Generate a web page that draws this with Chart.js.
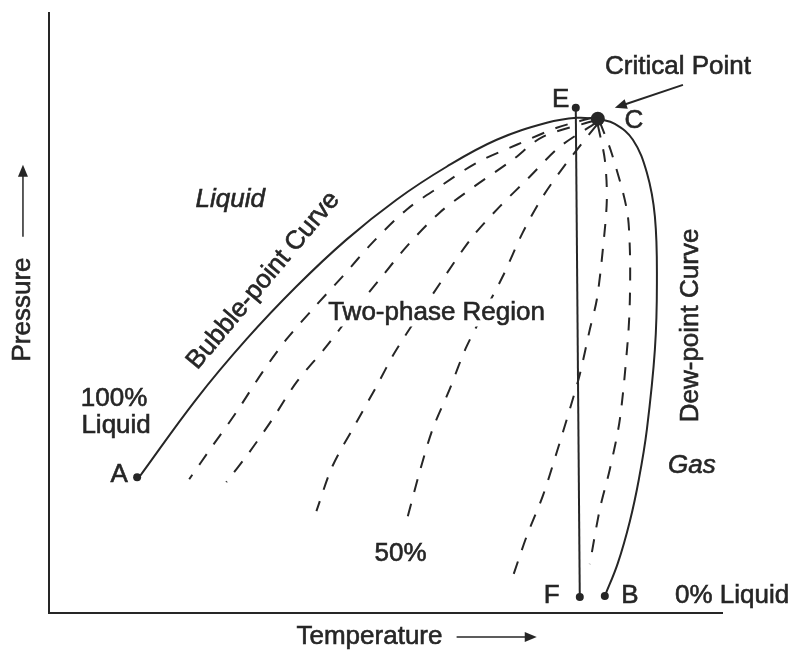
<!DOCTYPE html>
<html>
<head>
<meta charset="utf-8">
<title>Phase diagram</title>
<script src="https://cdn.jsdelivr.net/npm/chart.js@4.4.0/dist/chart.umd.min.js"></script>
<style>
  html, body { margin:0; padding:0; background:#fff; }
  #wrap { width:795px; height:653px; }
</style>
</head>
<body>
<div id="wrap"><canvas id="phase"></canvas></div>
<script>
// temperature / pressure in plot units (x 0..672, y 0..601)
const bubbleT = [90, 147, 197, 247, 297, 347, 397, 447, 497, 527, 548];
const bubbleP = [136, 214, 274, 327, 374, 414, 447, 474, 491, 496, 495];

const dewT = [548, 565, 583, 597, 605, 607, 605, 597, 589, 580, 568, 555];
const dewP = [495, 490, 474, 441, 397, 331, 264, 184, 134, 92, 50, 17];

// vertical isotherm E -> F
const efT = [526, 530];
const efP = [506, 16];

// quality lines (dashed), [T, P]
const q1 = [[542,496],[507,486],[467,469],[427,451],[390,427],[357,404],[323,371],[293,337],[263,304],[237,274],[213,241],[187,201],[163,167],[140,134]];
const q2 = [[544,493],[493,477],[463,454],[423,426],[390,401],[357,367],[330,334],[303,301],[277,267],[247,231],[223,194],[200,161],[177,131]];
const q3 = [[546,491],[510,467],[480,437],[450,407],[423,377],[393,334],[347,264],[327,227],[307,191],[283,147],[267,102]];
const q4 = [[547,489],[517,451],[493,417],[473,381],[453,337],[417,267],[400,224],[383,184],[370,141],[357,92]];
const q5 = [[548,489],[555,454],[557,414],[553,364],[547,314],[540,284],[530,239],[520,204],[507,161],[493,117],[477,77],[463,36]];
const q6 = [[550,492],[562,460],[577,404],[580,364],[580,314],[578,274],[570,194],[560,144],[550,104],[540,49]];

// named points
const ptNames = ['A', 'E', 'C', 'F', 'B'];
const ptT = [88, 526, 548, 530, 555];
const ptP = [136, 506, 495, 16, 17];

const ink = '#262626';

function xy(T, P) {
  return T.map(function(t, i){ return {x: t, y: P[i]}; });
}
function pairs(arr) {
  return arr.map(function(p){ return {x: p[0], y: p[1]}; });
}

var dashed = [q1, q2, q3, q4, q5, q6].map(function(q){
  return {
    data: pairs(q), borderColor: ink, borderWidth: 2, borderDash: [13, 12],
    pointRadius: 0, tension: 0.3, fill: false
  };
});

var labels = {
  id: 'labels',
  afterDraw: function(chart) {
    var ctx = chart.ctx;
    var xs = chart.scales.x, ys = chart.scales.y;
    function X(v){ return xs.getPixelForValue(v); }
    function Y(v){ return ys.getPixelForValue(v); }
    function txt(s, t, p, opt) {
      opt = opt || {};
      ctx.save();
      ctx.font = (opt.italic ? 'italic ' : '') + '26px "Liberation Sans", Arial, sans-serif';
      ctx.textAlign = opt.align || 'center';
      ctx.textBaseline = 'middle';
      ctx.translate(X(t), Y(p));
      if (opt.rot) ctx.rotate(opt.rot * Math.PI / 180);
      if (opt.bg) {
        var w = ctx.measureText(s).width;
        ctx.fillStyle = '#fff';
        ctx.fillRect(-w / 2 - 3, -14, w + 6, 28);
      }
      ctx.fillStyle = ink;
      ctx.strokeStyle = ink;
      ctx.lineWidth = 0.6;
      ctx.fillText(s, 0, 0);
      ctx.strokeText(s, 0, 0);
      ctx.restore();
    }
    function arrow(t1, p1, t2, p2, w) {
      var x1 = X(t1), y1 = Y(p1), x2 = X(t2), y2 = Y(p2);
      var a = Math.atan2(y2 - y1, x2 - x1);
      ctx.save();
      ctx.strokeStyle = ink; ctx.fillStyle = ink; ctx.lineWidth = w || 1.5;
      ctx.beginPath(); ctx.moveTo(x1, y1); ctx.lineTo(x2 - 8 * Math.cos(a), y2 - 8 * Math.sin(a)); ctx.stroke();
      ctx.beginPath();
      ctx.moveTo(x2, y2);
      ctx.lineTo(x2 - 12 * Math.cos(a) + 5 * Math.sin(a), y2 - 12 * Math.sin(a) - 5 * Math.cos(a));
      ctx.lineTo(x2 - 12 * Math.cos(a) - 5 * Math.sin(a), y2 - 12 * Math.sin(a) + 5 * Math.cos(a));
      ctx.closePath(); ctx.fill();
      ctx.restore();
    }

    txt('Critical Point', 628, 547);
    arrow(633, 529, 565, 506, 2);
    txt('E', 511, 514);
    txt('C', 584, 493);
    txt('Liquid', 181, 414, {italic: true});
    txt('Bubble-point Curve', 214, 333, {rot: -50});
    txt('Two-phase Region', 387, 301, {bg: true});
    txt('100%', 65, 215);
    txt('Liquid', 67, 187);
    txt('A', 70, 138);
    txt('50%', 351, 59);
    txt('F', 502, 17);
    txt('B', 580, 17);
    txt('0% Liquid', 625, 17, {align: 'left'});
    txt('Gas', 642, 147, {italic: true});
    txt('Dew-point Curve', 641, 288, {rot: -90});

    // axis titles
    txt('Pressure', -26, 304, {rot: -90});
    arrow(-26, 377, -26, 449);
    txt('Temperature', 320, -24);
    arrow(407, -24, 487, -24);
  }
};

new Chart(document.getElementById('phase'), {
  type: 'line',
  data: {
    datasets: [
      { data: xy(bubbleT, bubbleP), borderColor: ink, borderWidth: 2, pointRadius: 0, tension: 0.4 },
      { data: xy(dewT, dewP), borderColor: ink, borderWidth: 2, pointRadius: 0, tension: 0.4 },
      { data: xy(efT, efP), borderColor: ink, borderWidth: 2, pointRadius: 0, tension: 0 },
      {
        data: xy(ptT, ptP), showLine: false, pointBackgroundColor: ink, pointBorderColor: ink,
        pointRadius: [4, 4, 7, 4, 4], pointBorderWidth: 0
      }
    ].concat(dashed)
  },
  options: {
    responsive: true,
    maintainAspectRatio: false,
    animation: false,
    layout: { padding: { left: 49, right: 73, top: 13, bottom: 40 } },
    plugins: { legend: { display: false }, tooltip: { enabled: false } },
    scales: {
      x: {
        type: 'linear', min: 0, max: 672,
        grid: { display: false, drawTicks: false },
        ticks: { display: false },
        border: { display: true, color: ink, width: 2 }
      },
      y: {
        type: 'linear', min: 0, max: 601,
        grid: { display: false, drawTicks: false },
        ticks: { display: false },
        border: { display: true, color: ink, width: 2 }
      }
    }
  },
  plugins: [labels]
});
</script>
</body>
</html>
